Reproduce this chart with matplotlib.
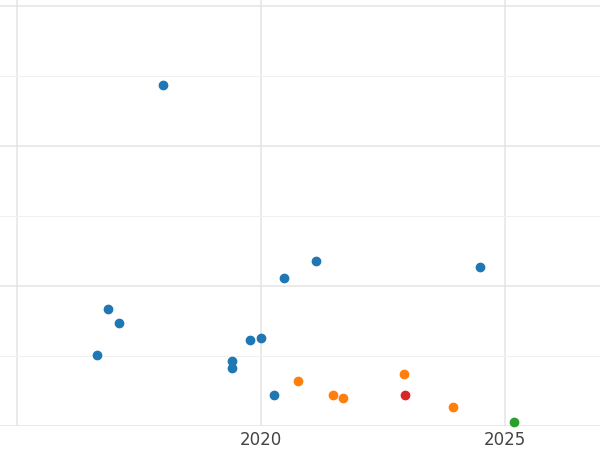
import matplotlib
matplotlib.use("Agg")
import matplotlib.pyplot as plt

blue_x = [2017.99, 2016.64, 2016.86, 2017.09, 2019.41, 2019.41, 2019.77, 2020.0, 2020.27, 2020.47, 2021.13, 2024.49]
blue_y = [4.87, 1.01, 1.67, 1.47, 0.93, 0.83, 1.23, 1.26, 0.44, 2.11, 2.36, 2.27]
orange_x = [2020.76, 2021.48, 2021.68, 2022.93, 2023.93]
orange_y = [0.64, 0.44, 0.40, 0.74, 0.27]
red_x = [2022.95]
red_y = [0.44]
green_x = [2025.18]
green_y = [0.06]

fig = plt.figure(figsize=(6, 4.5), dpi=100)
ax = fig.add_axes([0, 24 / 450, 1, 426 / 450])

for x, y, c in [(blue_x, blue_y, "#1f77b4"), (orange_x, orange_y, "#ff7f0e"),
                (red_x, red_y, "#d62728"), (green_x, green_y, "#2ca02c")]:
    ax.scatter(x, y, s=36, color=c, zorder=3, clip_on=False)

ax.set_xlim(2014.65, 2026.95)
ax.set_ylim(0, 6.086)
ax.set_xticks([2015, 2020, 2025])
ax.set_xticklabels(["", "2020", "2025"])
ax.set_xticks([2017.5, 2022.5], minor=True)
ax.set_yticks([0, 2, 4, 6])
ax.set_yticks([1, 3, 5], minor=True)
ax.grid(which="major", color="#e6e6e6", linewidth=1.2)
ax.grid(which="minor", axis="y", color="#f0f0f0", linewidth=0.8)
ax.tick_params(which="both", length=0, labelleft=False, labelsize=12,
               labelcolor="#444444")
for s in ax.spines.values():
    s.set_visible(False)

fig.savefig("out.png", dpi=100)
